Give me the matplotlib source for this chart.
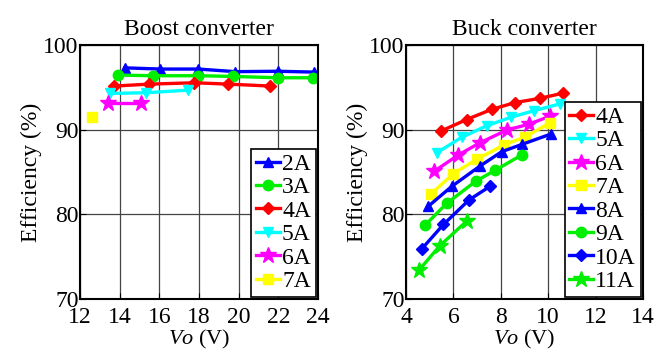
import matplotlib
matplotlib.use("Agg")
import matplotlib.pyplot as plt

plt.rcParams['font.family'] = ['Liberation Serif', 'DejaVu Serif']
plt.rcParams['mathtext.fontset'] = 'custom'
plt.rcParams['mathtext.it'] = 'Liberation Serif:italic'
plt.rcParams['mathtext.rm'] = 'Liberation Serif'

# ---------------- boost converter data ----------------
boost_labels = ["2A", "3A", "4A", "5A", "6A", "7A"]
boost_vo = [
    [14.27, 16.04, 17.97, 19.83, 21.98, 23.8],
    [13.9, 15.7, 17.97, 19.7, 21.98, 23.75],
    [13.72, 15.5, 17.77, 19.46, 21.6],
    [13.52, 15.33, 17.47],
    [13.43, 15.06],
    [12.59],
]
boost_eff = [
    [97.3, 97.16, 97.16, 96.85, 96.9, 96.8],
    [96.45, 96.37, 96.37, 96.29, 96.13, 96.13],
    [95.15, 95.38, 95.54, 95.38, 95.15],
    [94.28, 94.36, 94.67],
    [93.1, 93.1],
    [91.45],
]
boost_style = [("b", "^"), ("#00ee00", "o"), ("r", "D"), ("cyan", "v"), ("magenta", "*"), ("yellow", "s")]

# ---------------- buck converter data ----------------
buck_labels = ["4A", "5A", "6A", "7A", "8A", "9A", "10A", "11A"]
buck_vo = [
    [5.48, 6.56, 7.62, 8.6, 9.65, 10.61],
    [5.32, 6.35, 7.4, 8.43, 9.41, 10.5],
    [5.2, 6.2, 7.12, 8.25, 9.19, 10.08],
    [5.05, 6.0, 6.98, 8.14, 9.03, 10.08],
    [4.94, 5.93, 7.12, 8.04, 8.88, 10.1],
    [4.8, 5.72, 6.94, 7.76, 8.88],
    [4.66, 5.58, 6.66, 7.54],
    [4.56, 5.43, 6.56],
]
buck_eff = [
    [89.84, 91.2, 92.4, 93.2, 93.7, 94.3],
    [87.3, 89.1, 90.45, 91.47, 92.25, 93.05],
    [85.1, 87.0, 88.45, 89.95, 90.65, 91.6],
    [82.4, 84.8, 86.5, 88.2, 89.15, 90.8],
    [80.95, 83.3, 85.7, 87.4, 88.25, 89.47],
    [78.7, 81.3, 83.9, 85.2, 87.0],
    [75.9, 78.8, 81.7, 83.3],
    [73.45, 76.3, 79.2],
]
buck_style = [("r", "D"), ("cyan", "v"), ("magenta", "*"), ("yellow", "s"),
              ("b", "^"), ("#00ee00", "o"), ("b", "D"), ("#00ee00", "*")]

fig = plt.figure(figsize=(6.69, 3.51), dpi=100)
ax1 = fig.add_axes([80/669, 1-299/351, 238/669, 254/351])
ax2 = fig.add_axes([406/669, 1-299/351, 237/669, 254/351])

FS = 17


def msize(m):
    if m == "*":
        return 12
    if m == "D":
        return 6
    return 7.5


for ax, xs, ys, labels, styles in [(ax1, boost_vo, boost_eff, boost_labels, boost_style),
                                   (ax2, buck_vo, buck_eff, buck_labels, buck_style)]:
    for x, y, lab, (c, m) in zip(xs, ys, labels, styles):
        ax.plot(x, y, color=c, marker=m, markersize=msize(m), lw=2.4, label=lab,
                markeredgecolor=c)
    ax.set_ylim(70, 100)
    ax.set_yticks([70, 80, 90, 100])
    ax.grid(True, color="#444444", lw=0.9)
    ax.set_axisbelow(True)
    for s in ax.spines.values():
        s.set_linewidth(1.5)
    ax.tick_params(labelsize=FS, direction="in", length=4)
    ax.tick_params(axis="y", pad=1)
    ax.tick_params(axis="x", pad=5.5)
    ax.set_ylabel("Efficiency (%)", fontsize=FS, labelpad=1)
    ax.set_xlabel(r"$\it{Vo}$ (V)", fontsize=16, labelpad=0.5)
    leg = ax.legend(loc="lower right", fontsize=FS, handlelength=1.0, handletextpad=0.1,
                    borderpad=0.2, labelspacing=0.08, borderaxespad=0.1, fancybox=False,
                    framealpha=1, edgecolor="black")
    leg.get_frame().set_linewidth(1.2)

ax1.set_xlim(12, 24)
ax1.set_xticks(range(12, 25, 2))
ax2.set_xlim(4, 14)
ax2.set_xticks(range(4, 15, 2))
ax1.set_title("Boost converter", fontsize=FS, pad=7)
ax2.set_title("Buck converter", fontsize=FS, pad=7)

fig.savefig("out.png", dpi=100)
